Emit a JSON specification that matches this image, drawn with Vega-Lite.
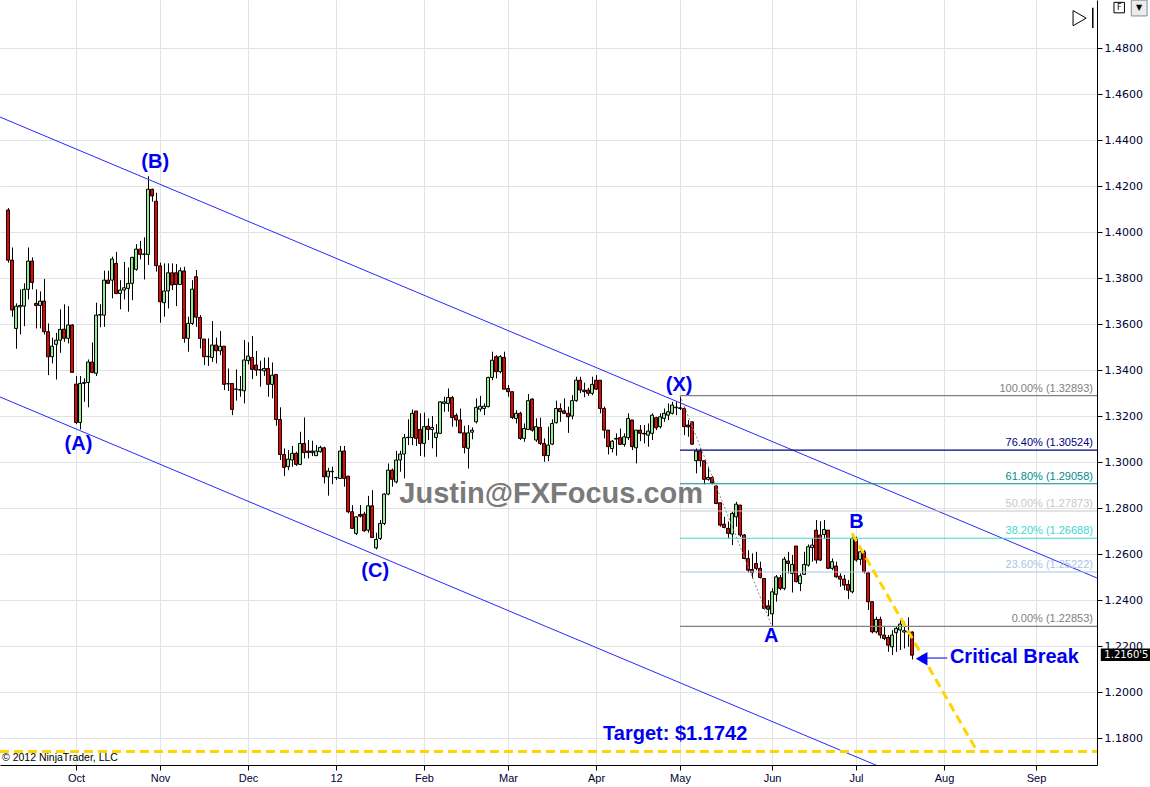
{
  "$schema": "https://vega.github.io/schema/vega-lite/v6.json",
  "width": 1097,
  "height": 765,
  "autosize": {"type": "none"},
  "padding": {"left": 0, "top": 0, "right": 53, "bottom": 22},
  "background": "white",
  "config": {"view": {"stroke": null}, "font": "Liberation Sans", "scale": {"continuousPadding": 0}},
  "datasets": {
    "candles": [
      {"i":-17,"o":1.4096,"h":1.4104,"l":1.3867,"c":1.3878},
      {"i":-16,"o":1.3878,"h":1.3933,"l":1.3632,"c":1.3661},
      {"i":-15,"o":1.3581,"h":1.3690,"l":1.3493,"c":1.3678},
      {"i":-14,"o":1.3675,"h":1.3751,"l":1.3555,"c":1.3681},
      {"i":-13,"o":1.3678,"h":1.3777,"l":1.3591,"c":1.3751},
      {"i":-12,"o":1.3751,"h":1.3933,"l":1.3707,"c":1.3874},
      {"i":-11,"o":1.3874,"h":1.3890,"l":1.3751,"c":1.3781},
      {"i":-10,"o":1.3690,"h":1.3751,"l":1.3581,"c":1.3681},
      {"i":-9,"o":1.3681,"h":1.3742,"l":1.3581,"c":1.3700},
      {"i":-8,"o":1.3700,"h":1.3796,"l":1.3555,"c":1.3567},
      {"i":-7,"o":1.3567,"h":1.3603,"l":1.3378,"c":1.3458},
      {"i":-6,"o":1.3458,"h":1.3541,"l":1.3429,"c":1.3504},
      {"i":-5,"o":1.3512,"h":1.3562,"l":1.3359,"c":1.3530},
      {"i":-4,"o":1.3530,"h":1.3664,"l":1.3475,"c":1.3577},
      {"i":-3,"o":1.3578,"h":1.3686,"l":1.3523,"c":1.3538},
      {"i":-2,"o":1.3538,"h":1.3678,"l":1.3516,"c":1.3596},
      {"i":-1,"o":1.3596,"h":1.3600,"l":1.3390,"c":1.3390},
      {"i":0,"o":1.3339,"h":1.3374,"l":1.3165,"c":1.3172},
      {"i":1,"o":1.3172,"h":1.3374,"l":1.3142,"c":1.3342},
      {"i":2,"o":1.3342,"h":1.3364,"l":1.3262,"c":1.3346},
      {"i":3,"o":1.3346,"h":1.3446,"l":1.3238,"c":1.3435},
      {"i":4,"o":1.3435,"h":1.3520,"l":1.3386,"c":1.3390},
      {"i":5,"o":1.3386,"h":1.3693,"l":1.3374,"c":1.3639},
      {"i":6,"o":1.3639,"h":1.3686,"l":1.3586,"c":1.3641},
      {"i":7,"o":1.3639,"h":1.3832,"l":1.3588,"c":1.3791},
      {"i":8,"o":1.3791,"h":1.3832,"l":1.3777,"c":1.3777},
      {"i":9,"o":1.3791,"h":1.3893,"l":1.3712,"c":1.3883},
      {"i":10,"o":1.3864,"h":1.3914,"l":1.3730,"c":1.3733},
      {"i":11,"o":1.3733,"h":1.3791,"l":1.3664,"c":1.3748},
      {"i":12,"o":1.3748,"h":1.3870,"l":1.3707,"c":1.3758},
      {"i":13,"o":1.3755,"h":1.3846,"l":1.3654,"c":1.3777},
      {"i":14,"o":1.3777,"h":1.3893,"l":1.3704,"c":1.3890},
      {"i":15,"o":1.3838,"h":1.3948,"l":1.3832,"c":1.3926},
      {"i":16,"o":1.3926,"h":1.3962,"l":1.3881,"c":1.3903},
      {"i":17,"o":1.3903,"h":1.3977,"l":1.3794,"c":1.3905},
      {"i":18,"o":1.3903,"h":1.4243,"l":1.3857,"c":1.4186},
      {"i":19,"o":1.4186,"h":1.4189,"l":1.4132,"c":1.4157},
      {"i":20,"o":1.4134,"h":1.4171,"l":1.3828,"c":1.3854},
      {"i":21,"o":1.3853,"h":1.3867,"l":1.3606,"c":1.3697},
      {"i":22,"o":1.3693,"h":1.3864,"l":1.3632,"c":1.3744},
      {"i":23,"o":1.3744,"h":1.3864,"l":1.3668,"c":1.3823},
      {"i":24,"o":1.3823,"h":1.3864,"l":1.3748,"c":1.3770},
      {"i":25,"o":1.3823,"h":1.3861,"l":1.3678,"c":1.3772},
      {"i":26,"o":1.3772,"h":1.3846,"l":1.3770,"c":1.3832},
      {"i":27,"o":1.3831,"h":1.3849,"l":1.3519,"c":1.3538},
      {"i":28,"o":1.3538,"h":1.3632,"l":1.3480,"c":1.3603},
      {"i":29,"o":1.3603,"h":1.3791,"l":1.3596,"c":1.3752},
      {"i":30,"o":1.3806,"h":1.3835,"l":1.3588,"c":1.3630},
      {"i":31,"o":1.3629,"h":1.3639,"l":1.3494,"c":1.3538},
      {"i":32,"o":1.3535,"h":1.3535,"l":1.3422,"c":1.3458},
      {"i":33,"o":1.3458,"h":1.3538,"l":1.3418,"c":1.3460},
      {"i":34,"o":1.3455,"h":1.3613,"l":1.3436,"c":1.3509},
      {"i":35,"o":1.3509,"h":1.3541,"l":1.3429,"c":1.3484},
      {"i":36,"o":1.3484,"h":1.3570,"l":1.3465,"c":1.3504},
      {"i":37,"o":1.3504,"h":1.3504,"l":1.3313,"c":1.3338},
      {"i":38,"o":1.3340,"h":1.3407,"l":1.3309,"c":1.3341},
      {"i":39,"o":1.3342,"h":1.3342,"l":1.3204,"c":1.3229},
      {"i":40,"o":1.3316,"h":1.3403,"l":1.3267,"c":1.3318},
      {"i":41,"o":1.3313,"h":1.3374,"l":1.3284,"c":1.3315},
      {"i":42,"o":1.3310,"h":1.3531,"l":1.3255,"c":1.3444},
      {"i":43,"o":1.3441,"h":1.3521,"l":1.3425,"c":1.3461},
      {"i":44,"o":1.3455,"h":1.3548,"l":1.3361,"c":1.3403},
      {"i":45,"o":1.3422,"h":1.3483,"l":1.3375,"c":1.3400},
      {"i":46,"o":1.3400,"h":1.3441,"l":1.3328,"c":1.3402},
      {"i":47,"o":1.3397,"h":1.3454,"l":1.3375,"c":1.3407},
      {"i":48,"o":1.3407,"h":1.3455,"l":1.3284,"c":1.3338},
      {"i":49,"o":1.3338,"h":1.3433,"l":1.3277,"c":1.3378},
      {"i":50,"o":1.3381,"h":1.3381,"l":1.3158,"c":1.3185},
      {"i":51,"o":1.3185,"h":1.3238,"l":1.3009,"c":1.3033},
      {"i":52,"o":1.3033,"h":1.3059,"l":1.2939,"c":1.2977},
      {"i":53,"o":1.2980,"h":1.3052,"l":1.2965,"c":1.3013},
      {"i":54,"o":1.3009,"h":1.3070,"l":1.2980,"c":1.3038},
      {"i":55,"o":1.3038,"h":1.3045,"l":1.2983,"c":1.2990},
      {"i":56,"o":1.2990,"h":1.3132,"l":1.2987,"c":1.3081},
      {"i":57,"o":1.3081,"h":1.3194,"l":1.3016,"c":1.3041},
      {"i":58,"o":1.3048,"h":1.3096,"l":1.3016,"c":1.3042},
      {"i":59,"o":1.3048,"h":1.3093,"l":1.3026,"c":1.3041},
      {"i":60,"o":1.3028,"h":1.3074,"l":1.3026,"c":1.3048},
      {"i":61,"o":1.3045,"h":1.3071,"l":1.3041,"c":1.3064},
      {"i":62,"o":1.3062,"h":1.3067,"l":1.2907,"c":1.2936},
      {"i":63,"o":1.2936,"h":1.2975,"l":1.2854,"c":1.2961},
      {"i":64,"o":1.2958,"h":1.2980,"l":1.2904,"c":1.2960},
      {"i":65,"o":1.2932,"h":1.2936,"l":1.2922,"c":1.2933},
      {"i":66,"o":1.2929,"h":1.3070,"l":1.2929,"c":1.3048},
      {"i":67,"o":1.3048,"h":1.3070,"l":1.2893,"c":1.2929},
      {"i":68,"o":1.2939,"h":1.2939,"l":1.2777,"c":1.2784},
      {"i":69,"o":1.2784,"h":1.2813,"l":1.2709,"c":1.2712},
      {"i":70,"o":1.2690,"h":1.2765,"l":1.2683,"c":1.2762},
      {"i":71,"o":1.2772,"h":1.2813,"l":1.2759,"c":1.2765},
      {"i":72,"o":1.2774,"h":1.2784,"l":1.2697,"c":1.2701},
      {"i":73,"o":1.2704,"h":1.2853,"l":1.2693,"c":1.2810},
      {"i":74,"o":1.2810,"h":1.2878,"l":1.2672,"c":1.2672},
      {"i":75,"o":1.2627,"h":1.2693,"l":1.2620,"c":1.2664},
      {"i":76,"o":1.2668,"h":1.2748,"l":1.2661,"c":1.2733},
      {"i":77,"o":1.2733,"h":1.2864,"l":1.2726,"c":1.2861},
      {"i":78,"o":1.2861,"h":1.2994,"l":1.2856,"c":1.2965},
      {"i":79,"o":1.2965,"h":1.2972,"l":1.2893,"c":1.2925},
      {"i":80,"o":1.2914,"h":1.3049,"l":1.2907,"c":1.3009},
      {"i":81,"o":1.3009,"h":1.3049,"l":1.2958,"c":1.3035},
      {"i":82,"o":1.3035,"h":1.3122,"l":1.2929,"c":1.3106},
      {"i":83,"o":1.3106,"h":1.3186,"l":1.3074,"c":1.3108},
      {"i":84,"o":1.3107,"h":1.3229,"l":1.3074,"c":1.3212},
      {"i":85,"o":1.3222,"h":1.3222,"l":1.3070,"c":1.3103},
      {"i":86,"o":1.3142,"h":1.3212,"l":1.3026,"c":1.3081},
      {"i":87,"o":1.3081,"h":1.3215,"l":1.3023,"c":1.3154},
      {"i":88,"o":1.3156,"h":1.3190,"l":1.3096,"c":1.3142},
      {"i":89,"o":1.3142,"h":1.3200,"l":1.3060,"c":1.3151},
      {"i":90,"o":1.3107,"h":1.3165,"l":1.3023,"c":1.3127},
      {"i":91,"o":1.3125,"h":1.3265,"l":1.3125,"c":1.3262},
      {"i":92,"o":1.3255,"h":1.3284,"l":1.3219,"c":1.3262},
      {"i":93,"o":1.3255,"h":1.3320,"l":1.3219,"c":1.3281},
      {"i":94,"o":1.3281,"h":1.3287,"l":1.3154,"c":1.3194},
      {"i":95,"o":1.3203,"h":1.3212,"l":1.3154,"c":1.3183},
      {"i":96,"o":1.3183,"h":1.3233,"l":1.3125,"c":1.3127},
      {"i":97,"o":1.3127,"h":1.3158,"l":1.3038,"c":1.3064},
      {"i":98,"o":1.3060,"h":1.3161,"l":1.2972,"c":1.3127},
      {"i":99,"o":1.3130,"h":1.3151,"l":1.3099,"c":1.3139},
      {"i":100,"o":1.3175,"h":1.3277,"l":1.3168,"c":1.3238},
      {"i":101,"o":1.3230,"h":1.3288,"l":1.3219,"c":1.3243},
      {"i":102,"o":1.3233,"h":1.3255,"l":1.3204,"c":1.3243},
      {"i":103,"o":1.3241,"h":1.3371,"l":1.3238,"c":1.3368},
      {"i":104,"o":1.3368,"h":1.3480,"l":1.3356,"c":1.3443},
      {"i":105,"o":1.3458,"h":1.3465,"l":1.3364,"c":1.3393},
      {"i":106,"o":1.3393,"h":1.3465,"l":1.3386,"c":1.3458},
      {"i":107,"o":1.3455,"h":1.3480,"l":1.3317,"c":1.3317},
      {"i":108,"o":1.3320,"h":1.3335,"l":1.3284,"c":1.3306},
      {"i":109,"o":1.3306,"h":1.3306,"l":1.3187,"c":1.3194},
      {"i":110,"o":1.3190,"h":1.3226,"l":1.3168,"c":1.3212},
      {"i":111,"o":1.3212,"h":1.3219,"l":1.3096,"c":1.3103},
      {"i":112,"o":1.3103,"h":1.3168,"l":1.3088,"c":1.3146},
      {"i":113,"o":1.3142,"h":1.3296,"l":1.3139,"c":1.3267},
      {"i":114,"o":1.3274,"h":1.3277,"l":1.3132,"c":1.3139},
      {"i":115,"o":1.3096,"h":1.3190,"l":1.3088,"c":1.3154},
      {"i":116,"o":1.3151,"h":1.3193,"l":1.3074,"c":1.3081},
      {"i":117,"o":1.3081,"h":1.3103,"l":1.3001,"c":1.3028},
      {"i":118,"o":1.3028,"h":1.3154,"l":1.3004,"c":1.3074},
      {"i":119,"o":1.3078,"h":1.3186,"l":1.3074,"c":1.3168},
      {"i":120,"o":1.3171,"h":1.3267,"l":1.3168,"c":1.3233},
      {"i":121,"o":1.3233,"h":1.3255,"l":1.3175,"c":1.3219},
      {"i":122,"o":1.3223,"h":1.3277,"l":1.3209,"c":1.3212},
      {"i":123,"o":1.3212,"h":1.3241,"l":1.3127,"c":1.3197},
      {"i":124,"o":1.3200,"h":1.3291,"l":1.3186,"c":1.3267},
      {"i":125,"o":1.3267,"h":1.3371,"l":1.3262,"c":1.3356},
      {"i":126,"o":1.3356,"h":1.3371,"l":1.3300,"c":1.3313},
      {"i":127,"o":1.3313,"h":1.3345,"l":1.3282,"c":1.3306},
      {"i":128,"o":1.3313,"h":1.3323,"l":1.3288,"c":1.3299},
      {"i":129,"o":1.3299,"h":1.3371,"l":1.3291,"c":1.3338},
      {"i":130,"o":1.3356,"h":1.3378,"l":1.3313,"c":1.3317},
      {"i":131,"o":1.3356,"h":1.3356,"l":1.3212,"c":1.3233},
      {"i":132,"o":1.3233,"h":1.3241,"l":1.3103,"c":1.3139},
      {"i":133,"o":1.3139,"h":1.3139,"l":1.3033,"c":1.3067},
      {"i":134,"o":1.3059,"h":1.3096,"l":1.3042,"c":1.3091},
      {"i":135,"o":1.3100,"h":1.3125,"l":1.3028,"c":1.3103},
      {"i":136,"o":1.3106,"h":1.3146,"l":1.3074,"c":1.3077},
      {"i":137,"o":1.3077,"h":1.3125,"l":1.3067,"c":1.3110},
      {"i":138,"o":1.3106,"h":1.3212,"l":1.3096,"c":1.3190},
      {"i":139,"o":1.3183,"h":1.3183,"l":1.3052,"c":1.3067},
      {"i":140,"o":1.3062,"h":1.3139,"l":1.2994,"c":1.3139},
      {"i":141,"o":1.3139,"h":1.3161,"l":1.3091,"c":1.3125},
      {"i":142,"o":1.3125,"h":1.3161,"l":1.3081,"c":1.3122},
      {"i":143,"o":1.3117,"h":1.3168,"l":1.3067,"c":1.3135},
      {"i":144,"o":1.3125,"h":1.3212,"l":1.3096,"c":1.3204},
      {"i":145,"o":1.3193,"h":1.3197,"l":1.3139,"c":1.3149},
      {"i":146,"o":1.3154,"h":1.3212,"l":1.3146,"c":1.3197},
      {"i":147,"o":1.3190,"h":1.3233,"l":1.3175,"c":1.3212},
      {"i":148,"o":1.3204,"h":1.3255,"l":1.3183,"c":1.3219},
      {"i":149,"o":1.3212,"h":1.3262,"l":1.3207,"c":1.3248},
      {"i":150,"o":1.3236,"h":1.3262,"l":1.3204,"c":1.3239},
      {"i":151,"o":1.3236,"h":1.3289,"l":1.3226,"c":1.3233},
      {"i":152,"o":1.3233,"h":1.3241,"l":1.3117,"c":1.3154},
      {"i":153,"o":1.3161,"h":1.3183,"l":1.3110,"c":1.3153},
      {"i":154,"o":1.3175,"h":1.3175,"l":1.3074,"c":1.3078},
      {"i":155,"o":1.3006,"h":1.3059,"l":1.2951,"c":1.3048},
      {"i":156,"o":1.3048,"h":1.3059,"l":1.2980,"c":1.3006},
      {"i":157,"o":1.3006,"h":1.3006,"l":1.2904,"c":1.2925},
      {"i":158,"o":1.2925,"h":1.2980,"l":1.2919,"c":1.2933},
      {"i":159,"o":1.2933,"h":1.2939,"l":1.2904,"c":1.2910},
      {"i":160,"o":1.2896,"h":1.2900,"l":1.2817,"c":1.2820},
      {"i":161,"o":1.2823,"h":1.2823,"l":1.2719,"c":1.2726},
      {"i":162,"o":1.2730,"h":1.2762,"l":1.2712,"c":1.2716},
      {"i":163,"o":1.2712,"h":1.2741,"l":1.2668,"c":1.2690},
      {"i":164,"o":1.2687,"h":1.2784,"l":1.2639,"c":1.2777},
      {"i":165,"o":1.2762,"h":1.2827,"l":1.2719,"c":1.2817},
      {"i":166,"o":1.2813,"h":1.2813,"l":1.2675,"c":1.2683},
      {"i":167,"o":1.2683,"h":1.2687,"l":1.2578,"c":1.2581},
      {"i":168,"o":1.2581,"h":1.2617,"l":1.2519,"c":1.2530},
      {"i":169,"o":1.2533,"h":1.2603,"l":1.2494,"c":1.2519},
      {"i":170,"o":1.2559,"h":1.2610,"l":1.2530,"c":1.2538},
      {"i":171,"o":1.2538,"h":1.2567,"l":1.2494,"c":1.2498},
      {"i":172,"o":1.2494,"h":1.2494,"l":1.2359,"c":1.2364},
      {"i":173,"o":1.2375,"h":1.2400,"l":1.2330,"c":1.2360},
      {"i":174,"o":1.2340,"h":1.2451,"l":1.2285,"c":1.2436},
      {"i":175,"o":1.2425,"h":1.2509,"l":1.2393,"c":1.2501},
      {"i":176,"o":1.2497,"h":1.2509,"l":1.2443,"c":1.2451},
      {"i":177,"o":1.2451,"h":1.2588,"l":1.2443,"c":1.2578},
      {"i":178,"o":1.2570,"h":1.2610,"l":1.2516,"c":1.2559},
      {"i":179,"o":1.2516,"h":1.2596,"l":1.2433,"c":1.2555},
      {"i":180,"o":1.2635,"h":1.2635,"l":1.2477,"c":1.2480},
      {"i":181,"o":1.2472,"h":1.2516,"l":1.2439,"c":1.2506},
      {"i":182,"o":1.2512,"h":1.2610,"l":1.2509,"c":1.2555},
      {"i":183,"o":1.2552,"h":1.2642,"l":1.2545,"c":1.2632},
      {"i":184,"o":1.2628,"h":1.2668,"l":1.2567,"c":1.2639},
      {"i":185,"o":1.2704,"h":1.2748,"l":1.2559,"c":1.2574},
      {"i":186,"o":1.2683,"h":1.2743,"l":1.2570,"c":1.2574},
      {"i":187,"o":1.2685,"h":1.2748,"l":1.2668,"c":1.2707},
      {"i":188,"o":1.2704,"h":1.2704,"l":1.2535,"c":1.2538},
      {"i":189,"o":1.2538,"h":1.2581,"l":1.2530,"c":1.2567},
      {"i":190,"o":1.2548,"h":1.2567,"l":1.2497,"c":1.2501},
      {"i":191,"o":1.2504,"h":1.2516,"l":1.2458,"c":1.2491},
      {"i":192,"o":1.2491,"h":1.2509,"l":1.2443,"c":1.2465},
      {"i":193,"o":1.2468,"h":1.2487,"l":1.2404,"c":1.2443},
      {"i":194,"o":1.2436,"h":1.2690,"l":1.2429,"c":1.2668},
      {"i":195,"o":1.2664,"h":1.2675,"l":1.2567,"c":1.2574},
      {"i":196,"o":1.2577,"h":1.2617,"l":1.2552,"c":1.2610},
      {"i":197,"o":1.2610,"h":1.2617,"l":1.2516,"c":1.2523},
      {"i":198,"o":1.2519,"h":1.2523,"l":1.2357,"c":1.2393},
      {"i":199,"o":1.2393,"h":1.2393,"l":1.2255,"c":1.2262},
      {"i":200,"o":1.2262,"h":1.2328,"l":1.2255,"c":1.2316},
      {"i":201,"o":1.2316,"h":1.2328,"l":1.2233,"c":1.2248},
      {"i":202,"o":1.2248,"h":1.2287,"l":1.2226,"c":1.2233},
      {"i":203,"o":1.2238,"h":1.2248,"l":1.2175,"c":1.2204},
      {"i":204,"o":1.2197,"h":1.2269,"l":1.2161,"c":1.2248},
      {"i":205,"o":1.2258,"h":1.2287,"l":1.2175,"c":1.2277},
      {"i":206,"o":1.2270,"h":1.2316,"l":1.2183,"c":1.2296},
      {"i":207,"o":1.2261,"h":1.2306,"l":1.2190,"c":1.2267},
      {"i":208,"o":1.2264,"h":1.2325,"l":1.2197,"c":1.2261},
      {"i":209,"o":1.2261,"h":1.2264,"l":1.2142,"c":1.21605}
    ],
    "channel": [
      {"line":"upper","i":-19,"p":1.4500},
      {"line":"upper","i":255.25,"p":1.2496},
      {"line":"lower","i":-19,"p":1.3283},
      {"line":"lower","i":230,"p":1.1463}
    ],
    "fib": [
      {"lvl":"100.00%","p":1.32893,"i":151,"i2":255.25,"label":"100.00% (1.32893)"},
      {"lvl":"76.40%","p":1.30524,"i":151,"i2":255.25,"label":"76.40% (1.30524)"},
      {"lvl":"61.80%","p":1.29058,"i":151,"i2":255.25,"label":"61.80% (1.29058)"},
      {"lvl":"50.00%","p":1.27873,"i":151,"i2":255.25,"label":"50.00% (1.27873)"},
      {"lvl":"38.20%","p":1.26688,"i":151,"i2":255.25,"label":"38.20% (1.26688)"},
      {"lvl":"23.60%","p":1.25222,"i":151,"i2":255.25,"label":"23.60% (1.25222)"},
      {"lvl":"0.00%","p":1.22853,"i":151,"i2":255.25,"label":"0.00% (1.22853)"}
    ],
    "xa": [{"i":151,"p":1.3289},{"i":174,"p":1.2285}],
    "target": [{"i":194,"p":1.2690},{"i":225.3,"p":1.1742}],
    "targetH": [{"i":-19,"i2":255.25,"p":1.1742}],
    "waves": [
      {"t":"(B)","i":19.8,"p":1.4304},
      {"t":"(A)","i":0.6,"p":1.3078},
      {"t":"(C)","i":74.8,"p":1.2526},
      {"t":"(X)","i":150.8,"p":1.3335},
      {"t":"A","i":173.8,"p":1.2243},
      {"t":"B","i":195.1,"p":1.2739}
    ],
    "notes": [
      {"t":"Critical Break","i":234.6,"p":1.2152},
      {"t":"Target: $1.1742","i":149.8,"p":1.1817}
    ],
    "watermark": [{"t":"Justin@FXFocus.com","i":118.8,"p":1.2861}],
    "copyright": [{"t":"© 2012 NinjaTrader, LLC","i":-18.5,"p":1.1713}],
    "arrowLine": [{"i":212.5,"i2":217.8,"p":1.2148}],
    "arrowHead": [{"i":211.4,"p":1.2145}],
    "tag": [{"i":256.2,"i2":268.7,"p":1.2189,"p2":1.2135,"t":"1.2160'5","ti":262.6,"tp":1.21605}],
    "icon": [{"i":250.9,"p":1.4930,"i2":254.2,"p1":1.4975,"p2":1.4887}],
    "fbox": [{"t":"F","i":260.8,"p":1.4976}],
    "drop": [{"t":"▼","i":265.8,"p":1.4974}]
  },
  "layer": [
    {
      "data": {"name": "candles"},
      "mark": {"type": "rule", "color": "#000000", "strokeWidth": 1, "xOffset": 0.5},
      "encoding": {
        "x": {"field": "i", "type": "quantitative",
          "scale": {"domain": [-19, 255.25], "nice": false, "zero": false, "padding": 0},
          "axis": {"orient": "bottom", "title": null,
            "values": [0,21,43,65,87,108,130,151,174,195,217,240],
            "labelExpr": "['Oct','Nov','Dec','12','Feb','Mar','Apr','May','Jun','Jul','Aug','Sep'][indexof([0,21,43,65,87,108,130,151,174,195,217,240], datum.value)]",
            "grid": true, "gridColor": "#e2e2e2", "gridWidth": 1,
            "domainColor": "#000000", "tickColor": "#000000", "tickSize": 5,
            "labelFont": "Liberation Sans", "labelFontSize": 11, "labelColor": "#000033",
            "labelPadding": 2, "labelOverlap": false}},
        "y": {"field": "l", "type": "quantitative",
          "scale": {"domain": [1.1683, 1.5009], "nice": false, "zero": false, "padding": 0},
          "axis": {"orient": "right", "title": null,
            "values": [1.18,1.20,1.22,1.24,1.26,1.28,1.30,1.32,1.34,1.36,1.38,1.40,1.42,1.44,1.46,1.48],
            "format": ".4f", "grid": true, "gridColor": "#e2e2e2", "gridWidth": 1,
            "domainColor": "#000000", "tickColor": "#000000", "tickSize": 5,
            "labelFont": "DejaVu Sans", "labelFontSize": 11, "labelColor": "#000033",
            "labelPadding": 2, "labelOverlap": false}},
        "y2": {"field": "h"}
      }
    },
    {
      "data": {"name": "candles"},
      "mark": {"type": "bar", "width": 3, "stroke": "#000000", "strokeWidth": 1},
      "encoding": {
        "x": {"field": "i", "type": "quantitative"},
        "y": {"field": "o", "type": "quantitative"},
        "y2": {"field": "c"},
        "fill": {"condition": {"test": "datum.c < datum.o", "value": "#ee0000"}, "value": "#90ee90"}
      }
    },
    {
      "data": {"name": "channel"},
      "mark": {"type": "line", "color": "#2828ff", "strokeWidth": 1, "clip": true},
      "encoding": {
        "x": {"field": "i", "type": "quantitative"},
        "y": {"field": "p", "type": "quantitative"},
        "detail": {"field": "line"}
      }
    },
    {
      "data": {"name": "fib"},
      "mark": {"type": "rule", "strokeWidth": 1.2},
      "encoding": {
        "x": {"field": "i", "type": "quantitative"},
        "x2": {"field": "i2"},
        "y": {"field": "p", "type": "quantitative"},
        "color": {"field": "lvl", "type": "nominal", "legend": null,
          "scale": {"domain": ["100.00%","76.40%","61.80%","50.00%","38.20%","23.60%","0.00%"],
                    "range": ["#808080","#000080","#008b8b","#c8c8c8","#40d8d0","#a8c4e8","#808080"]}}
      }
    },
    {
      "data": {"name": "fib"},
      "mark": {"type": "text", "align": "right", "baseline": "middle", "dx": -4, "dy": -7, "font": "Liberation Sans", "fontSize": 11},
      "encoding": {
        "x": {"field": "i2", "type": "quantitative"},
        "y": {"field": "p", "type": "quantitative"},
        "text": {"field": "label"},
        "color": {"field": "lvl", "type": "nominal", "legend": null}
      }
    },
    {
      "data": {"name": "xa"},
      "mark": {"type": "line", "color": "#8a8a8a", "strokeWidth": 1, "strokeDash": [2, 2]},
      "encoding": {
        "x": {"field": "i", "type": "quantitative"},
        "y": {"field": "p", "type": "quantitative"}
      }
    },
    {
      "data": {"name": "target"},
      "mark": {"type": "line", "color": "#ffd400", "strokeWidth": 3, "strokeDash": [9, 5], "clip": true},
      "encoding": {
        "x": {"field": "i", "type": "quantitative"},
        "y": {"field": "p", "type": "quantitative"}
      }
    },
    {
      "data": {"name": "targetH"},
      "mark": {"type": "rule", "color": "#ffd400", "strokeWidth": 3, "strokeDash": [9, 5]},
      "encoding": {
        "x": {"field": "i", "type": "quantitative"},
        "x2": {"field": "i2"},
        "y": {"field": "p", "type": "quantitative"}
      }
    },
    {
      "data": {"name": "watermark"},
      "mark": {"type": "text", "align": "center", "baseline": "middle", "font": "Liberation Sans", "fontWeight": "bold", "fontSize": 29, "color": "#7a7a7a"},
      "encoding": {
        "x": {"field": "i", "type": "quantitative"},
        "y": {"field": "p", "type": "quantitative"},
        "text": {"field": "t"}
      }
    },
    {
      "data": {"name": "waves"},
      "mark": {"type": "text", "align": "center", "baseline": "middle", "font": "Liberation Sans", "fontWeight": "bold", "fontSize": 20, "color": "#0000f0"},
      "encoding": {
        "x": {"field": "i", "type": "quantitative"},
        "y": {"field": "p", "type": "quantitative"},
        "text": {"field": "t"}
      }
    },
    {
      "data": {"name": "notes"},
      "mark": {"type": "text", "align": "center", "baseline": "middle", "font": "Liberation Sans", "fontWeight": "bold", "fontSize": 20, "color": "#0000f0"},
      "encoding": {
        "x": {"field": "i", "type": "quantitative"},
        "y": {"field": "p", "type": "quantitative"},
        "text": {"field": "t"}
      }
    },
    {
      "data": {"name": "arrowLine"},
      "mark": {"type": "rule", "color": "#5050ff", "strokeWidth": 1.5},
      "encoding": {
        "x": {"field": "i", "type": "quantitative"},
        "x2": {"field": "i2"},
        "y": {"field": "p", "type": "quantitative"}
      }
    },
    {
      "data": {"name": "arrowHead"},
      "mark": {"type": "point", "shape": "triangle-left", "filled": true, "color": "#0000ff", "size": 180, "opacity": 1},
      "encoding": {
        "x": {"field": "i", "type": "quantitative"},
        "y": {"field": "p", "type": "quantitative"}
      }
    },
    {
      "data": {"name": "copyright"},
      "mark": {"type": "text", "align": "left", "baseline": "middle", "font": "Liberation Sans", "fontSize": 10.5, "color": "#000000"},
      "encoding": {
        "x": {"field": "i", "type": "quantitative"},
        "y": {"field": "p", "type": "quantitative"},
        "text": {"field": "t"}
      }
    },
    {
      "data": {"name": "icon"},
      "mark": {"type": "point", "shape": "triangle-right", "filled": false, "color": "#000000", "strokeWidth": 1, "size": 230, "opacity": 1},
      "encoding": {
        "x": {"field": "i", "type": "quantitative"},
        "y": {"field": "p", "type": "quantitative"}
      }
    },
    {
      "data": {"name": "icon"},
      "mark": {"type": "rule", "color": "#000000", "strokeWidth": 1.5},
      "encoding": {
        "x": {"field": "i2", "type": "quantitative"},
        "y": {"field": "p1", "type": "quantitative"},
        "y2": {"field": "p2"}
      }
    },
    {
      "data": {"name": "fbox"},
      "mark": {"type": "point", "shape": "square", "filled": false, "color": "#000000", "strokeWidth": 1, "size": 110, "opacity": 1, "clip": false},
      "encoding": {
        "x": {"field": "i", "type": "quantitative"},
        "y": {"field": "p", "type": "quantitative"}
      }
    },
    {
      "data": {"name": "fbox"},
      "mark": {"type": "text", "align": "center", "baseline": "middle", "font": "DejaVu Sans", "fontSize": 8, "color": "#000000", "clip": false},
      "encoding": {
        "x": {"field": "i", "type": "quantitative"},
        "y": {"field": "p", "type": "quantitative"},
        "text": {"field": "t"}
      }
    },
    {
      "data": {"name": "drop"},
      "mark": {"type": "point", "shape": "square", "filled": true, "fill": "#ececec", "stroke": "#8a8a8a", "strokeWidth": 1, "size": 250, "opacity": 1, "clip": false},
      "encoding": {
        "x": {"field": "i", "type": "quantitative"},
        "y": {"field": "p", "type": "quantitative"}
      }
    },
    {
      "data": {"name": "drop"},
      "mark": {"type": "text", "align": "center", "baseline": "middle", "font": "DejaVu Sans", "fontSize": 8, "color": "#000000", "clip": false},
      "encoding": {
        "x": {"field": "i", "type": "quantitative"},
        "y": {"field": "p", "type": "quantitative"},
        "text": {"field": "t"}
      }
    },
    {
      "data": {"name": "tag"},
      "mark": {"type": "rect", "color": "#000000", "clip": false},
      "encoding": {
        "x": {"field": "i", "type": "quantitative"},
        "x2": {"field": "i2"},
        "y": {"field": "p", "type": "quantitative"},
        "y2": {"field": "p2"}
      }
    },
    {
      "data": {"name": "tag"},
      "mark": {"type": "text", "align": "center", "baseline": "middle", "font": "DejaVu Sans", "fontSize": 10, "color": "#ffffff", "clip": false},
      "encoding": {
        "x": {"field": "ti", "type": "quantitative"},
        "y": {"field": "tp", "type": "quantitative"},
        "text": {"field": "t"}
      }
    }
  ]
}
